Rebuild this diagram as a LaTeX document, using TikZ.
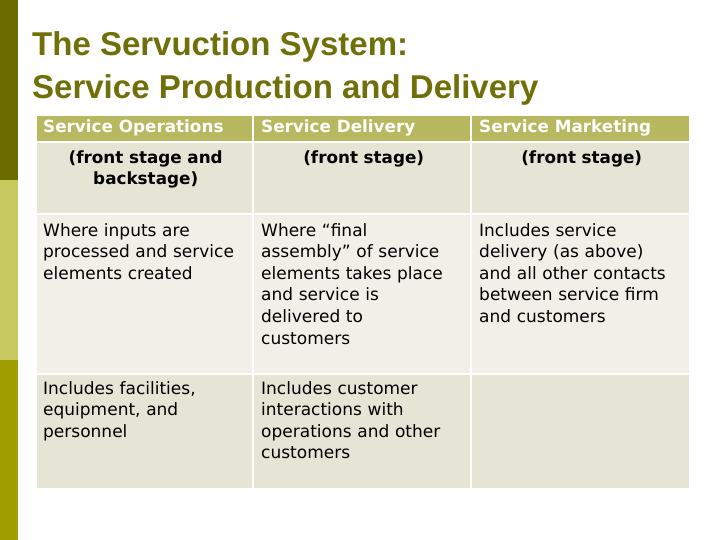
\documentclass[tikz,border=0pt]{standalone}
\usepackage{fontspec}
\setmainfont{DejaVu Sans}
\newfontfamily\titlefont{Liberation Sans}
\definecolor{barA}{HTML}{6B6B00}
\definecolor{barB}{HTML}{C8C860}
\definecolor{barC}{HTML}{9F9F00}
\definecolor{headfill}{HTML}{B8B860}
\definecolor{rowdark}{HTML}{E5E4D5}
\definecolor{rowlight}{HTML}{F1F0E8}
\definecolor{titlecol}{HTML}{70700A}
\begin{document}
\begin{tikzpicture}[x=1pt,y=-1pt]
\tikzset{
  cell/.style={inner sep=0pt,draw=white,line width=2pt},
  txt/.style={anchor=north west,inner sep=0pt,text width=212pt,align=left,
    font=\fontsize{17}{21.6}\selectfont},
  ctxt/.style={txt,text width=205pt,align=center,font=\bfseries\fontsize{16.8}{21}\selectfont},
  hd/.style={anchor=west,inner sep=0pt,text=white,font=\bfseries\fontsize{16.8}{18}\selectfont},
  ttl/.style={anchor=west,inner sep=0pt,text=titlecol,font=\titlefont\bfseries\fontsize{33}{38}\selectfont}
}
\useasboundingbox (0,0) rectangle (720,540);
\fill[white] (0,0) rectangle (720,540);
% side bar
\fill[barA] (0,0) rectangle (18,180);
\fill[barB] (0,180) rectangle (18,360);
\fill[barC] (0,360) rectangle (18,540);
% title
\node[ttl] (t1) at (32,47) {The Servuction System:};
\node[ttl] (t2) at (32,90) {Service Production and Delivery};
% table
\foreach \xa/\xb/\c in {36/253/a,253/471/b,471/690/c}{
  \draw[cell,fill=headfill] (\xa,115) rectangle (\xb,142);
  \draw[cell,fill=rowdark] (\xa,142) rectangle (\xb,214);
  \draw[cell,fill=rowlight] (\xa,214) rectangle (\xb,374);
  \draw[cell,fill=rowdark] (\xa,374) rectangle (\xb,489);
}
\node[hd] (ha) at (43,128) {Service Operations};
\node[hd] (hb) at (261,128) {Service Delivery};
\node[hd] (hc) at (479,128) {Service Marketing};
\node[ctxt] (sa) at (43,151) {(front stage and\\backstage)};
\node[ctxt] (sb) at (261,151) {(front stage)};
\node[ctxt] (sc) at (479,151) {(front stage)};
\node[txt] (wa) at (43,223) {Where inputs are\\processed and service\\elements created};
\node[txt] (wb) at (261,223) {Where “final\\assembly” of service\\elements takes place\\and service is\\delivered to\\customers};
\node[txt] (wc) at (479,223) {Includes service\\delivery (as above)\\and all other contacts\\between service firm\\and customers};
\node[txt] (ia) at (43,381) {Includes facilities,\\equipment, and\\personnel};
\node[txt] (ib) at (261,381) {Includes customer\\interactions with\\operations and other\\customers};
\end{tikzpicture}
\end{document}
